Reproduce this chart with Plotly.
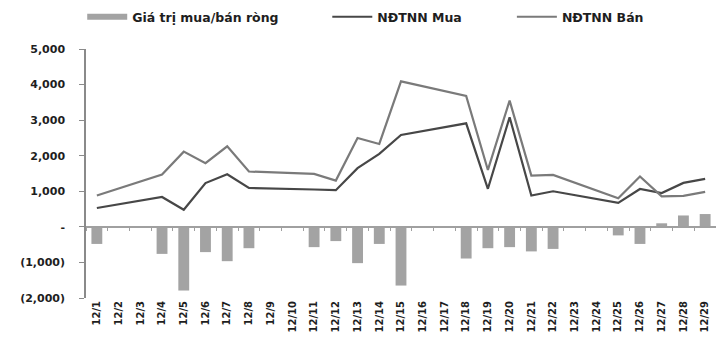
import plotly.graph_objects as go

# Trading days of December (x categories)
days = [f"12/{d}" for d in range(1, 30)]

# Net foreign buy/sell value (Giá trị mua/bán ròng); None = no trading session
net_value = [
    -480, None, None, -760, -1790, -710, -965, -600, None, None,
    -570, -400, -1020, -480, -1650, None, None, -890, -600, -570,
    -690, -620, None, None, -240, -480, 100, 320, 360,
]

# Foreign investors' buy value (NĐTNN Mua)
buy_value = [
    530, None, None, 840, 480, 1230, 1480, 1095, None, None,
    1050, 1030, 1650, 2050, 2585, None, None, 2910, 1070, 3080,
    880, 1000, None, None, 675, 1065, 950, 1235, 1350,
]

# Foreign investors' sell value (NĐTNN Bán)
sell_value = [
    880, None, None, 1470, 2115, 1790, 2265, 1555, None, None,
    1490, 1300, 2500, 2330, 4090, None, None, 3680, 1600, 3550,
    1440, 1460, None, None, 805, 1415, 860, 870, 985,
]

y_tick_vals = [5000, 4000, 3000, 2000, 1000, 0, -1000, -2000]
y_tick_text = ["5,000", "4,000", "3,000", "2,000", "1,000", "-", "(1,000)", "(2,000)"]

FONT = "DejaVu Sans, Verdana, sans-serif"
BAR_COLOR = "#a3a3a3"
BUY_COLOR = "#474747"
SELL_COLOR = "#7a7a7a"
LEGEND_FONT = dict(family=FONT, size=12.5, color="#1e1e1e", weight="bold")

fig = go.Figure()

fig.add_trace(go.Bar(
    x=days, y=net_value, name="Giá trị mua/bán ròng",
    marker=dict(color=BAR_COLOR, line=dict(width=0)),
    width=0.5, showlegend=False, legendgroup="net",
))
# Legend entry for the bars, drawn as a wide flat swatch
fig.add_trace(go.Scatter(
    x=[days[0]], y=[None], name="Giá trị mua/bán ròng", mode="lines",
    line=dict(color=BAR_COLOR, width=6), legendgroup="net",
    legend="legend", hoverinfo="skip",
))
fig.add_trace(go.Scatter(
    x=days, y=buy_value, name="NĐTNN Mua", mode="lines",
    line=dict(color=BUY_COLOR, width=2.2), connectgaps=True,
    legend="legend2",
))
fig.add_trace(go.Scatter(
    x=days, y=sell_value, name="NĐTNN Bán", mode="lines",
    line=dict(color=SELL_COLOR, width=2.2), connectgaps=True,
    legend="legend3",
))

# Horizontal category line at zero with boundary tick marks
fig.add_trace(go.Scatter(x=days, y=[None] * len(days), xaxis="x2",
                         showlegend=False, hoverinfo="skip"))

legend_common = dict(
    orientation="h", y=1.128, yanchor="middle", xanchor="left",
    font=LEGEND_FONT, itemwidth=40, bgcolor="rgba(0,0,0,0)",
)

fig.update_layout(
    width=716, height=340,
    margin=dict(l=86, r=0, t=49, b=42),
    paper_bgcolor="white", plot_bgcolor="white",
    font=dict(family=FONT, size=11, color="#1e1e1e"),
    showlegend=True,
    legend=dict(x=-0.006, **legend_common),
    legend2=dict(x=0.383, **legend_common),
    legend3=dict(x=0.676, **legend_common),
    xaxis=dict(
        type="category", categoryorder="array", categoryarray=days,
        range=[-0.5, 28.5],
        showline=False, showgrid=False, zeroline=False,
        tickangle=-90, ticks="",
        tickfont=dict(family=FONT, size=10, color="#1e1e1e", weight="bold"),
    ),
    xaxis2=dict(
        type="category", categoryorder="array", categoryarray=days,
        range=[-0.5, 28.5], overlaying="x", anchor="free", position=2 / 7,
        showline=True, linecolor="#a0a0a0", linewidth=1.5,
        ticks="outside", ticklen=3, tickcolor="#a0a0a0", tickson="boundaries",
        showticklabels=False, showgrid=False, zeroline=False,
    ),
    yaxis=dict(
        range=[-2000, 5000],
        tickvals=y_tick_vals, ticktext=y_tick_text,
        showline=True, linecolor="#8a8a8a", linewidth=1.5,
        ticks="outside", ticklen=5, tickcolor="#8a8a8a",
        ticklabelstandoff=12,
        showgrid=False, zeroline=False,
        tickfont=dict(family=FONT, size=11, color="#1e1e1e", weight="bold"),
    ),
)

fig.write_html("out.html")
